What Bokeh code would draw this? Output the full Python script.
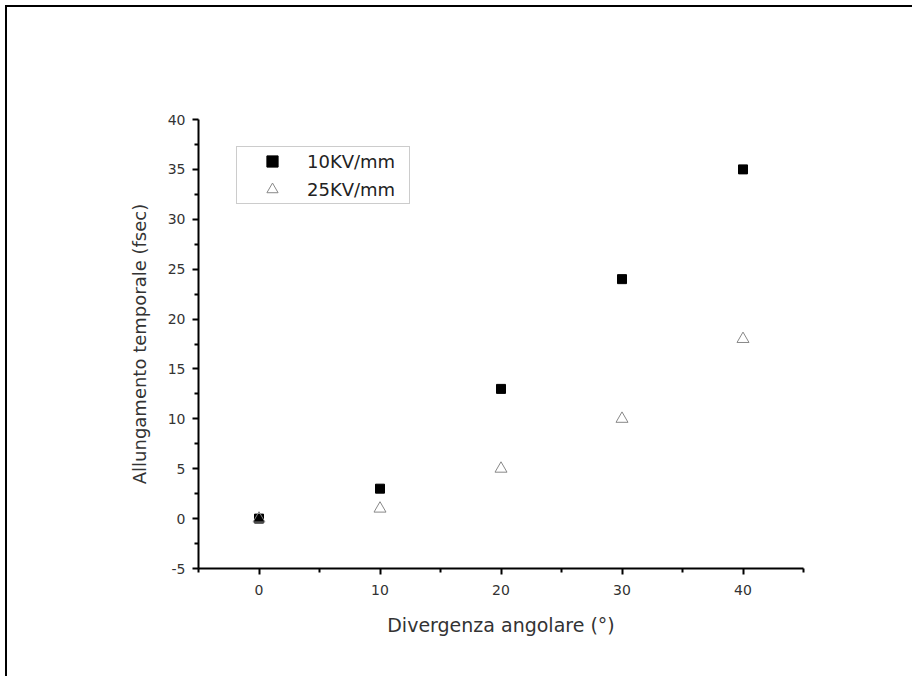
from bokeh.plotting import figure
from bokeh.models import FixedTicker, Legend, LegendItem
from bokeh.embed import file_html
from bokeh.resources import INLINE

# Data
divergence = [0, 10, 20, 30, 40]
kv10 = [0, 3, 13, 24, 35]
kv25 = [0, 1, 5, 10, 18]
x_major = [0, 10, 20, 30, 40]
x_minor = [-5, 5, 15, 25, 35, 45]
y_major = [-5, 0, 5, 10, 15, 20, 25, 30, 35, 40]
y_minor = [-2.5, 2.5, 7.5, 12.5, 17.5, 22.5, 27.5, 32.5, 37.5]
series_names = ["10KV/mm", "25KV/mm"]

FONT = "DejaVu Sans"
TXT = "#333333"

p = figure(frame_width=605, frame_height=449,
           min_border_left=191, min_border_top=112,
           min_border_right=111, min_border_bottom=110,
           x_range=(-5, 45), y_range=(-5, 40),
           output_backend="svg", toolbar_location=None,
           styles={"box-shadow": "-2px -2px 0px 0px black",
                   "margin-top": "7px", "margin-left": "7px"})

p.grid.visible = False
p.outline_line_color = None

for ax in (p.xaxis[0], p.yaxis[0]):
    ax.axis_line_width = 2
    ax.axis_line_color = "black"
    ax.major_tick_line_width = 2
    ax.minor_tick_line_width = 2
    ax.major_tick_line_color = "black"
    ax.minor_tick_line_color = "black"
    ax.major_tick_out = 6
    ax.major_tick_in = 0
    ax.minor_tick_out = 4
    ax.minor_tick_in = 0
    ax.major_label_text_font = FONT
    ax.major_label_text_font_size = "14px"
    ax.major_label_text_color = TXT
    ax.axis_label_text_font = FONT
    ax.axis_label_text_font_style = "normal"
    ax.axis_label_text_color = TXT

p.xaxis.axis_label_text_font_size = "19px"
p.yaxis.axis_label_text_font_size = "18px"
p.xaxis.ticker = FixedTicker(ticks=x_major, minor_ticks=x_minor)
p.yaxis.ticker = FixedTicker(ticks=y_major, minor_ticks=y_minor)
p.yaxis.major_label_overrides = {-5: "-5"}
p.xaxis.axis_label = "Divergenza angolare (°)"
p.yaxis.axis_label = "Allungamento temporale (fsec)"
p.xaxis.major_label_standoff = 10
p.yaxis.major_label_standoff = 7
p.xaxis.axis_label_standoff = 16
p.yaxis.axis_label_standoff = 15

r1 = p.scatter(divergence, kv10, marker="square", size=9,
               fill_color="black", line_color="black")
r2 = p.scatter(divergence, kv25, marker="triangle", size=12,
               fill_color=None, line_color="#888888", line_width=1)

legend = Legend(items=[LegendItem(label=series_names[0], renderers=[r1]),
                       LegendItem(label=series_names[1], renderers=[r2])],
                location=(38, 364), padding=0, margin=0, spacing=0,
                glyph_width=70, glyph_height=28, label_height=28,
                label_width=102, label_standoff=0,
                label_text_font=FONT, label_text_font_size="18px",
                label_text_color="#222222",
                border_line_color="#999999", border_line_width=1,
                background_fill_color="white")
p.add_layout(legend, "center")

open("out.html", "w").write(file_html(p, INLINE))
